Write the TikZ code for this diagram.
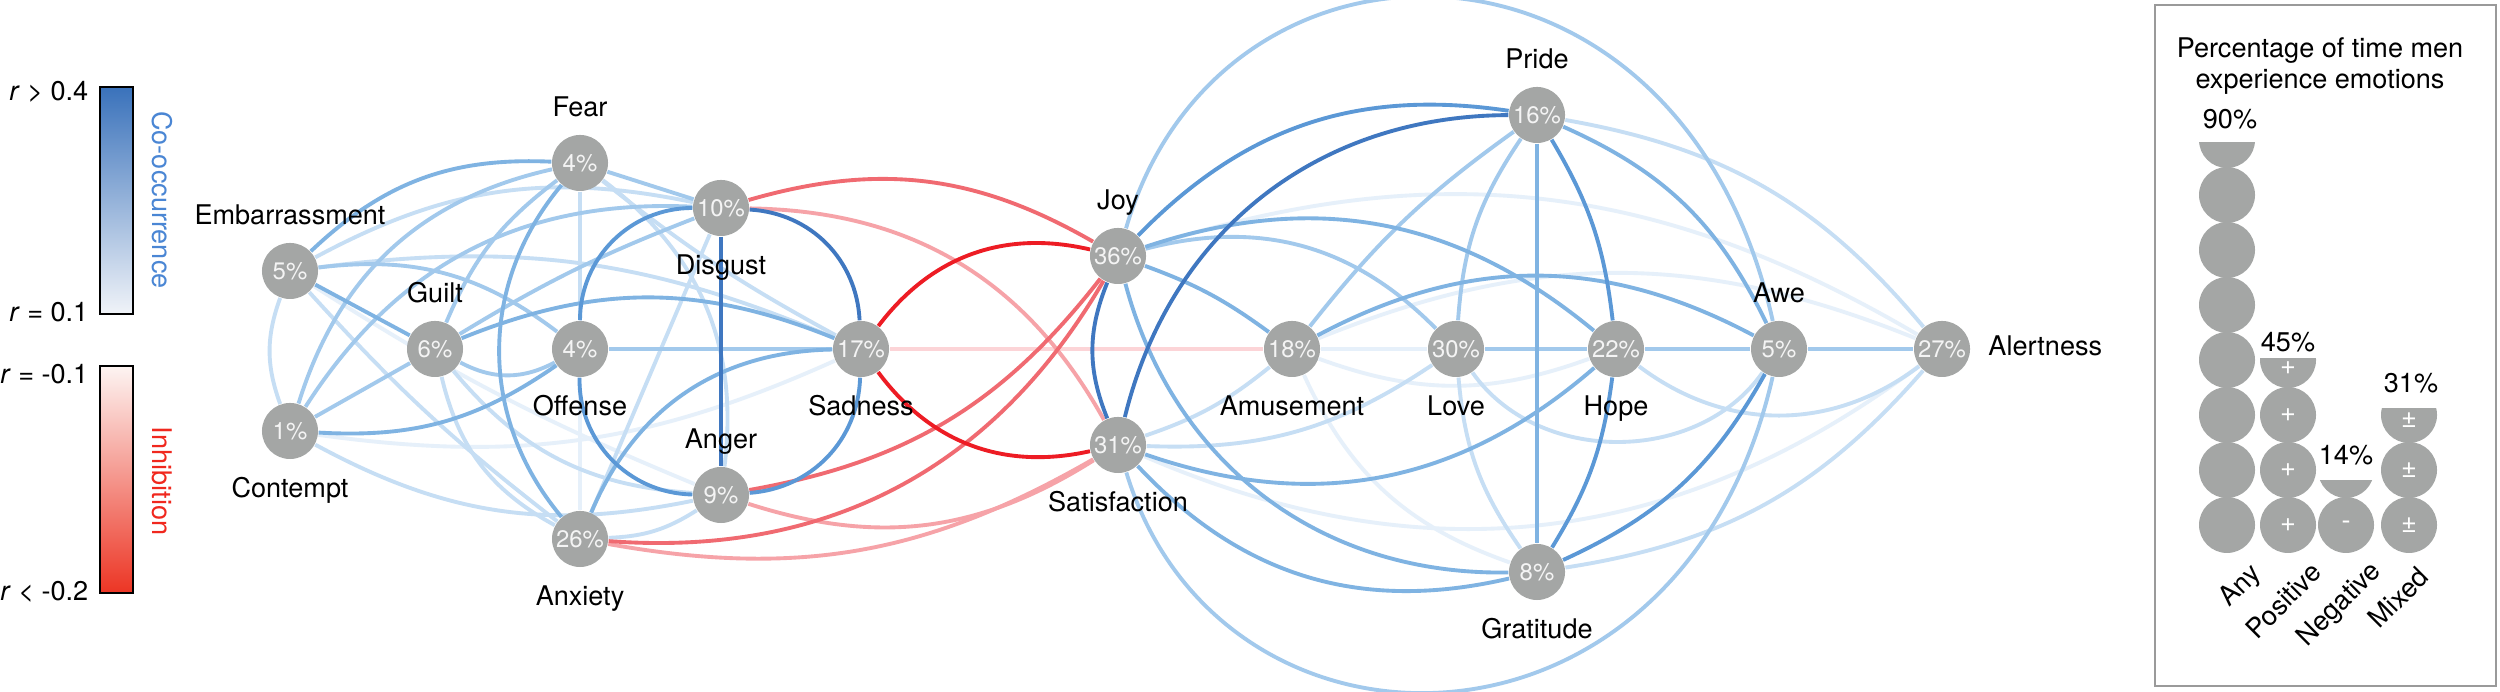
\documentclass[tikz,border=0pt]{standalone}
\usepackage{fontspec}
\setmainfont{TeX Gyre Heros}
\usepackage{tikz}
\usetikzlibrary{positioning,backgrounds}
\definecolor{NodeGray}{HTML}{A4A6A5}
\definecolor{PctInk}{HTML}{F4F4F4}
\definecolor{BoxGray}{HTML}{9A9A9A}
\definecolor{Cooc1}{HTML}{E6F0FA}
\definecolor{Cooc2}{HTML}{C6DEF4}
\definecolor{Cooc3}{HTML}{A2C9EC}
\definecolor{Cooc4}{HTML}{7FB3E2}
\definecolor{Cooc5}{HTML}{5B98D6}
\definecolor{Cooc6}{HTML}{3F77C0}
\definecolor{Inhib1}{HTML}{FCD4D7}
\definecolor{Inhib2}{HTML}{F6A3A8}
\definecolor{Inhib3}{HTML}{F06A71}
\definecolor{Inhib4}{HTML}{ED1C24}
\definecolor{LegBlueTop}{HTML}{3A72BB}
\definecolor{LegBlueBot}{HTML}{F0F3F8}
\definecolor{LegRedTop}{HTML}{FDF4F2}
\definecolor{LegRedBot}{HTML}{EC3524}
\definecolor{CoocText}{HTML}{4A86D4}
\definecolor{InhibText}{HTML}{F0281E}
\tikzset{
  emotion/.style={circle,fill=NodeGray,minimum size=0.56cm,inner sep=0pt,text=PctInk,
    font=\fontsize{6.8}{7.5}\selectfont},
  tag/.style={inner sep=0pt,text height=5.5pt,text depth=1.6pt,font=\fontsize{7.7}{9}\selectfont},
  caption/.style={inner sep=0pt,font=\fontsize{7.7}{8.8}\selectfont},
  sign/.style={inner sep=0pt,text=white,font=\fontsize{7.7}{9}\selectfont},
  link/.style={line width=1.1pt},
  cooc1/.style={link,draw=Cooc1},
  cooc2/.style={link,draw=Cooc2},
  cooc3/.style={link,draw=Cooc3},
  cooc4/.style={link,draw=Cooc4},
  cooc5/.style={link,draw=Cooc5},
  cooc6/.style={link,draw=Cooc6},
  inhib1/.style={link,draw=Inhib1},
  inhib2/.style={link,draw=Inhib2},
  inhib3/.style={link,draw=Inhib3},
  inhib4/.style={link,draw=Inhib4},
  node distance=1.15mm
}

\begin{document}
\begin{tikzpicture}[x=0.01cm,y=0.01cm]
  \useasboundingbox (0,0) rectangle (2500,692);

  % legend
  \shadedraw[top color=LegBlueTop,bottom color=LegBlueBot,draw=black,line width=0.7pt]
    (100,378) rectangle (133,605);
  \shadedraw[top color=LegRedTop,bottom color=LegRedBot,draw=black,line width=0.7pt]
    (100,99) rectangle (133,326);
  \node[caption,anchor=east] (rHigh) at (89,600) {\textit{r} > 0.4};
  \node[caption,anchor=east] (rLow) at (89,380) {\textit{r} = 0.1};
  \node[caption,anchor=east] (rNeg) at (89,318) {\textit{r} = -0.1};
  \node[caption,anchor=east] (rMin) at (89,100) {\textit{r} < -0.2};
  \node[caption,rotate=-90,text=CoocText] (coocTag) at (162,492) {Co-occurrence};
  \node[caption,rotate=-90,text=InhibText] (inhibTag) at (162,211) {Inhibition};

  % emotions
  \node[emotion] (emb) at (290,421) {5\%};
  \node[emotion] (gui) at (435,343) {6\%};
  \node[emotion] (con) at (290,261) {1\%};
  \node[emotion] (fea) at (580,529) {4\%};
  \node[emotion] (off) at (580,343) {4\%};
  \node[emotion] (anx) at (580,153) {26\%};
  \node[emotion] (dis) at (721,484) {10\%};
  \node[emotion] (ang) at (721,197) {9\%};
  \node[emotion] (sad) at (861,343) {17\%};
  \node[emotion] (joy) at (1118,436) {36\%};
  \node[emotion] (sat) at (1118,247) {31\%};
  \node[emotion] (amu) at (1292,343) {18\%};
  \node[emotion] (lov) at (1456,343) {30\%};
  \node[emotion] (hop) at (1616,343) {22\%};
  \node[emotion] (pri) at (1537,577) {16\%};
  \node[emotion] (gra) at (1537,120) {8\%};
  \node[emotion] (awe) at (1779,343) {5\%};
  \node[emotion] (ale) at (1942,343) {27\%};

  \node[tag,above=of emb] (embT) {Embarrassment};
  \node[tag,above=of gui] (guiT) {Guilt};
  \node[tag,above=of fea] (feaT) {Fear};
  \node[tag,above=of ang] (angT) {Anger};
  \node[tag,above=of joy] (joyT) {Joy};
  \node[tag,above=of pri] (priT) {Pride};
  \node[tag,above=of awe] (aweT) {Awe};
  \node[tag,below=1.8mm of con] (conT) {Contempt};
  \node[tag,below=1.8mm of off] (offT) {Offense};
  \node[tag,below=1.8mm of anx] (anxT) {Anxiety};
  \node[tag,below=1.8mm of dis] (disT) {Disgust};
  \node[tag,below=1.8mm of sad] (sadT) {Sadness};
  \node[tag,below=1.8mm of sat] (satT) {Satisfaction};
  \node[tag,below=1.8mm of amu] (amuT) {Amusement};
  \node[tag,below=1.8mm of lov] (lovT) {Love};
  \node[tag,below=1.8mm of hop] (hopT) {Hope};
  \node[tag,below=1.8mm of gra] (graT) {Gratitude};
  \node[tag,right=1.7mm of ale] (aleT) {Alertness};

  \begin{scope}[on background layer]
    \fill[white] (0,0) rectangle (2500,692);
    \draw[cooc1] (emb) to[bend right=5] (ang);
    \draw[cooc1] (con) to[bend right=16] (sad);
    \draw[cooc1] (anx) -- (off);
    \draw[cooc1] (joy) to[bend left=24] (ale);
    \draw[cooc1] (sat) to[bend right=30] (ale);
    \draw[cooc1] (amu) -- (lov);
    \draw[cooc1] (amu) to[bend right=20] (hop);
    \draw[cooc1] (amu) to[bend right=23] (gra);
    \draw[cooc1] (amu) to[bend left=22] (ale);
    \draw[inhib1] (sad) -- (amu);

    \draw[cooc2] (emb) to[bend left=20] (dis);
    \draw[cooc2] (emb) to[bend left=15] (sad);
    \draw[cooc2] (emb) to[bend right=20] (con);
    \draw[cooc2] (emb) to[bend right=5] (anx);
    \draw[cooc2] (gui) to[bend right=23] (ang);
    \draw[cooc2] (gui) to[bend right=24] (anx);
    \draw[cooc2] (con) to[bend right=20] (ang);
    \draw[cooc2] (fea) -- (off);
    \draw[cooc2] (fea) to[bend right=5] (sad);
    \draw[cooc2] (fea) to[bend left=30] (ang);
    \draw[cooc2] (anx) to[bend right=15] (ang);
    \draw[cooc2] (anx) -- (dis);
    \draw[cooc2] (sat) to[bend right=10] (amu);
    \draw[cooc2] (sat) to[bend right=18] (lov);
    \draw[cooc2] (lov) to[bend right=15] (gra);
    \draw[cooc2] (lov) to[bend right=55] (awe);
    \draw[cooc2] (hop) to[bend right=37] (ale);
    \draw[cooc2] (pri) to[bend left=20] (ale);
    \draw[cooc2] (gra) to[bend right=20] (ale);

    \draw[cooc3] (emb) to[bend left=22] (off);
    \draw[cooc3] (gui) to[bend left=15] (fea);
    \draw[cooc3] (gui) to[bend left=5] (dis);
    \draw[cooc3] (gui) to[bend right=28] (off);
    \draw[cooc3] (gui) -- (con);
    \draw[cooc3] (con) to[bend left=30] (fea);
    \draw[cooc3] (con) to[bend left=30] (dis);
    \draw[cooc3] (fea) -- (dis);
    \draw[cooc3] (off) -- (sad);
    \draw[cooc3] (joy) to[bend left=30] (lov);
    \draw[cooc3] (joy) .. controls (1220,787) and (1680,787) .. (awe);
    \draw[cooc3] (sat) .. controls (1220,-89) and (1680,-89) .. (awe);
    \draw[cooc3] (amu) to[bend left=8] (pri);
    \draw[cooc3] (lov) -- (hop);
    \draw[cooc3] (lov) to[bend left=15] (pri);
    \draw[cooc3] (hop) -- (awe);
    \draw[cooc3] (awe) -- (ale);

    \draw[inhib2] (dis) to[bend left=30] (sat);
    \draw[inhib2] (ang) to[bend right=25] (sat);
    \draw[inhib2] (anx) to[bend right=20] (sat);

    \draw[cooc4] (emb) to[bend left=23] (fea);
    \draw[cooc4] (emb) -- (gui);
    \draw[cooc4] (gui) to[bend left=22] (sad);
    \draw[cooc4] (con) to[bend right=19] (off);
    \draw[cooc4] (fea) to[bend right=40] (anx);
    \draw[cooc4] (anx) to[bend left=33] (sad);
    \draw[cooc4] (joy) to[bend left=29] (hop);
    \draw[cooc4] (joy) to[bend left=8] (amu);
    \draw[cooc4] (joy) to[bend right=38] (gra);
    \draw[cooc4] (sat) to[bend right=30] (hop);
    \draw[cooc4] (sat) to[bend right=30] (gra);
    \draw[cooc4] (amu) to[bend left=28] (awe);
    \draw[cooc4] (pri) -- (gra);
    \draw[cooc4] (pri) to[bend left=20] (awe);

    \draw[inhib3] (dis) to[bend left=23] (joy);
    \draw[inhib3] (ang) to[bend right=21] (joy);
    \draw[inhib3] (anx) to[bend right=32] (joy);

    \draw[cooc5] (off) to[bend left=45] (dis);
    \draw[cooc5] (sad) to[bend left=42] (ang);
    \draw[cooc5] (ang) to[bend left=45] (off);
    \draw[cooc5] (joy) to[bend left=27] (pri);
    \draw[cooc5] (hop) to[bend right=12] (pri);
    \draw[cooc5] (hop) to[bend left=12] (gra);
    \draw[cooc5] (gra) to[bend right=18] (awe);

    \draw[cooc6] (dis) to[bend left=42] (sad);
    \draw[cooc6] (dis) -- (ang);
    \draw[cooc6] (joy) to[bend right=22] (sat);
    \draw[cooc6] (sat) to[bend left=38] (pri);

    \draw[inhib4] (sad) to[bend left=33] (joy);
    \draw[inhib4] (sad) to[bend right=33] (sat);
  \end{scope}

  % side panel
  \draw[BoxGray,line width=0.6pt] (2155,6) rectangle (2496,687);
  \node[caption,align=center] (panelTitle) at (2320,626)
    {Percentage of time men\\experience emotions};
  \foreach \cx/\nfull/\ctop/\cut in {2227/7/552/549,2288/3/332/333,2346/1/222/211,2409/2/277/283}{
    \pgfmathtruncatemacro{\last}{\nfull-1}
    \foreach \k in {0,...,\last}
      \fill[NodeGray] (\cx,167+55*\k) circle[radius=28];
    \begin{scope}
      \clip (\cx-30,\cut) rectangle (\cx+30,\ctop-30);
      \fill[NodeGray] (\cx,\ctop) circle[radius=28];
    \end{scope}
  }
  \foreach \sy in {167,222,277,324}
    \node[sign] (plus\sy) at (2288,\sy) {+};
  \foreach \sy in {167,222,272}
    \node[sign] (mixed\sy) at (2409,\sy) {±};
  \node[sign] (minus) at (2346,167) {-};
  \node[caption] (anyPct) at (2230,573) {90\%};
  \node[caption] (posPct) at (2288,350) {45\%};
  \node[caption] (negPct) at (2346,237) {14\%};
  \node[caption] (mixPct) at (2411,309) {31\%};
  \node[caption,rotate=45,anchor=east] (anyTag) at (2258,122) {Any};
  \node[caption,rotate=45,anchor=east] (posTag) at (2317,125) {Positive};
  \node[caption,rotate=45,anchor=east] (negTag) at (2378,125) {Negative};
  \node[caption,rotate=45,anchor=east] (mixTag) at (2424,120) {Mixed};
\end{tikzpicture}
\end{document}
